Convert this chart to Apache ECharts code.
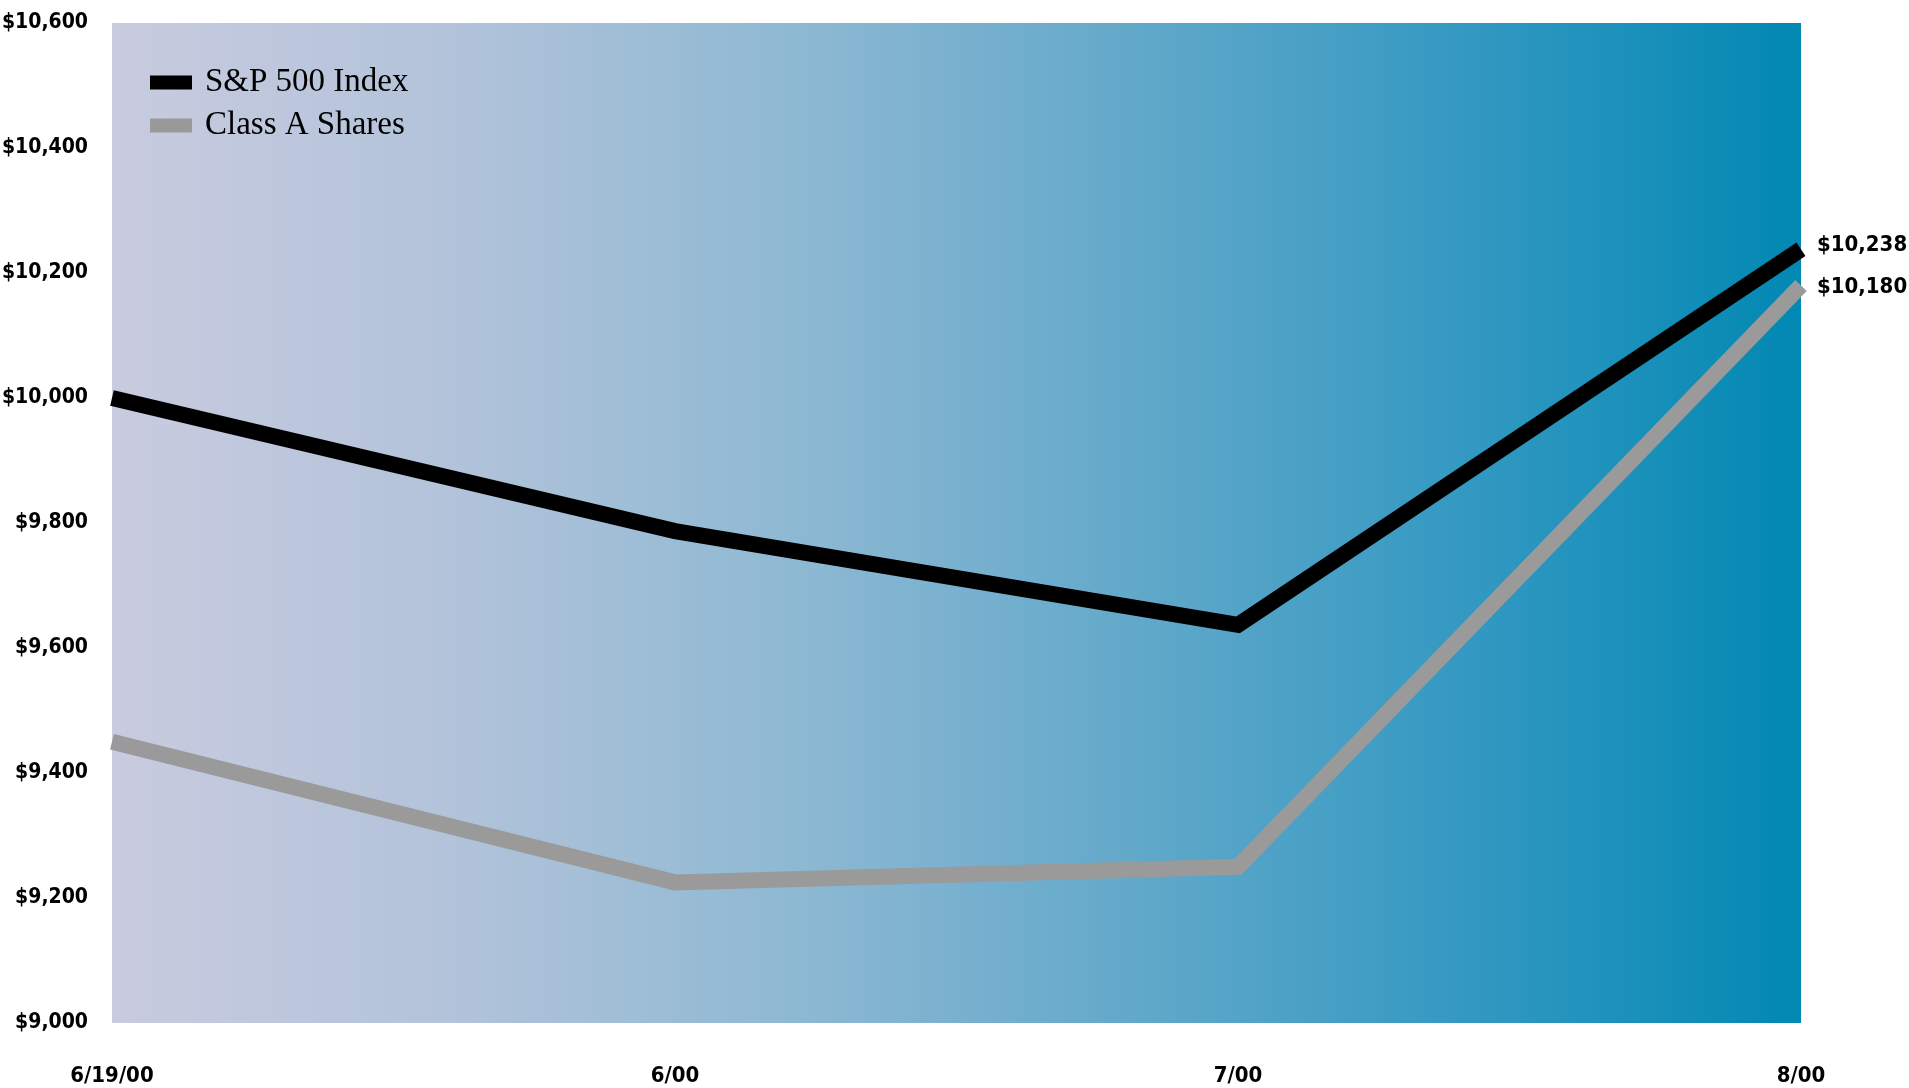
<!DOCTYPE html>
<html>
<head>
<meta charset="utf-8">
<script src="https://cdn.jsdelivr.net/npm/echarts@6/dist/echarts.min.js"></script>
<style>
html,body{margin:0;padding:0;background:#fff;}
#chart{width:1909px;height:1088px;}
</style>
</head>
<body>
<div id="chart"></div>
<script>
var categories = ['6/19/00', '6/00', '7/00', '8/00'];
var spValues = [10000, 9787, 9637, 10238];
var classAValues = [9450, 9225, 9250, 10180];
var seriesNames = ['S&P 500 Index', 'Class A Shares'];

var labelFont = "'DejaVu Sans Condensed', 'Liberation Sans Narrow', sans-serif";
function money(v) { return '$' + Number(v).toLocaleString('en-US'); }

var chart = echarts.init(document.getElementById('chart'), null, { renderer: 'canvas' });
chart.setOption({
  animation: false,
  backgroundColor: '#ffffff',
  grid: {
    left: 112, right: 108, top: 23, bottom: 65,
    outerBoundsMode: 'none',
    containLabel: false,
    show: true, borderWidth: 0,
    backgroundColor: new echarts.graphic.LinearGradient(0, 0, 1, 0, [
      { offset: 0, color: '#c9cbdf' },
      { offset: 0.2, color: '#b2c3da' },
      { offset: 0.4, color: '#8fb9d3' },
      { offset: 0.6, color: '#63a9ca' },
      { offset: 0.8, color: '#3499c2' },
      { offset: 1, color: '#0188b3' }
    ])
  },
  legend: {
    orient: 'vertical',
    left: 145, top: 61,
    itemWidth: 42, itemHeight: 14, itemGap: 10,
    icon: 'rect',
    data: seriesNames,
    textStyle: { fontFamily: "'Liberation Serif', 'Times New Roman', serif", fontSize: 33, color: '#000', padding: [0, 0, 0, 8] }
  },
  xAxis: {
    type: 'category',
    data: categories,
    boundaryGap: false,
    axisLine: { show: false },
    axisTick: { show: false },
    axisLabel: { margin: 42, fontFamily: labelFont, fontWeight: 'bold', fontSize: 22, color: '#000' }
  },
  yAxis: {
    type: 'value',
    min: 9000, max: 10600, interval: 200,
    splitLine: { show: false },
    axisLine: { show: false },
    axisTick: { show: false },
    axisLabel: { margin: 24, fontFamily: labelFont, fontWeight: 'bold', fontSize: 21, color: '#000', formatter: money }
  },
  series: [
    {
      name: seriesNames[0], type: 'line', data: spValues,
      symbol: 'none', color: '#000000',
      lineStyle: { width: 16, color: '#000000', join: 'miter' },
      endLabel: { show: true, distance: 16, offset: [0, -4], formatter: function (p) { return money(p.value); },
        fontFamily: labelFont, fontWeight: 'bold', fontSize: 22, color: '#000' }
    },
    {
      name: seriesNames[1], type: 'line', data: classAValues,
      symbol: 'none', color: '#999999',
      lineStyle: { width: 16, color: '#9a9a9a', join: 'miter' },
      endLabel: { show: true, distance: 16, offset: [0, 2], formatter: function (p) { return money(p.value); },
        fontFamily: labelFont, fontWeight: 'bold', fontSize: 22, color: '#000' }
    }
  ]
});
</script>
</body>
</html>
